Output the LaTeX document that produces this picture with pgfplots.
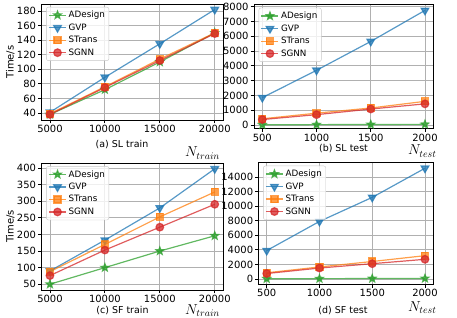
\documentclass[border=0pt]{standalone}
\usepackage{fontspec}
\setmainfont{DejaVu Sans}
\usepackage{pgfplots}
\pgfplotsset{compat=1.18}
\definecolor{tabblue}{HTML}{1F77B4}
\definecolor{taborange}{HTML}{FF7F0E}
\definecolor{tabgreen}{HTML}{2CA02C}
\definecolor{tabred}{HTML}{D62728}
\definecolor{gridgray}{HTML}{B0B0B0}

\pgfdeclareplotmark{fstar}{%
  \pgfpathmoveto{\pgfpointpolar{90}{\pgfplotmarksize}}%
  \pgfpathlineto{\pgfpointpolar{126}{0.42*\pgfplotmarksize}}%
  \pgfpathlineto{\pgfpointpolar{162}{\pgfplotmarksize}}%
  \pgfpathlineto{\pgfpointpolar{198}{0.42*\pgfplotmarksize}}%
  \pgfpathlineto{\pgfpointpolar{234}{\pgfplotmarksize}}%
  \pgfpathlineto{\pgfpointpolar{270}{0.42*\pgfplotmarksize}}%
  \pgfpathlineto{\pgfpointpolar{306}{\pgfplotmarksize}}%
  \pgfpathlineto{\pgfpointpolar{342}{0.42*\pgfplotmarksize}}%
  \pgfpathlineto{\pgfpointpolar{18}{\pgfplotmarksize}}%
  \pgfpathlineto{\pgfpointpolar{54}{0.42*\pgfplotmarksize}}%
  \pgfpathclose
  \pgfusepathqfillstroke}

\pgfplotsset{
  myaxis/.style={
    scale only axis,
    axis line style={line width=0.8bp},
    tick align=outside,
    major tick length=3.5bp,
    tick style={black, line width=0.8bp},
    xtick pos=bottom, ytick pos=left,
    grid=major,
    major grid style={gridgray, line width=0.8bp},
    ticklabel style={font=\fontsize{10}{12}\selectfont},
    xticklabel style={inner sep=1.5bp},
    yticklabel style={inner sep=2bp},
    label style={font=\fontsize{10}{12}\selectfont},
    ylabel shift=-3bp,
    /pgf/number format/assume math mode=true,
    /pgf/number format/1000 sep={},
    scaled ticks=false,
    legend cell align=left,
    legend style={at={(0.025,0.975)}, anchor=north west,
      font=\fontsize{8.8}{10}\selectfont, draw=gridgray!70,
      rounded corners=2pt, fill=white, fill opacity=0.8, text opacity=1,
      row sep=0.5pt, inner sep=2pt},
    every axis plot/.append style={line width=1.2bp, opacity=0.75},
  },
  ad/.style={tabgreen, mark=fstar, mark size=4bp, mark options={solid}},
  gvp/.style={tabblue, mark=triangle*, mark size=4.4bp, mark options={solid, rotate=180}},
  st/.style={taborange, mark=square*, mark size=3.5bp, mark options={solid}},
  sg/.style={tabred, mark=*, mark size=3.8bp, mark options={solid}},
}

\begin{document}
\begin{tikzpicture}
\useasboundingbox (0,0) rectangle (457bp,318bp);

% (a) SL train
\begin{axis}[myaxis, at={(41.7bp,198bp)}, anchor=south west,
  width=181.3bp, height=116bp,
  xmin=4250, xmax=20750, ymin=30.4, ymax=189.6,
  xtick={5000,10000,15000,20000}, ytick={40,60,...,180},
  ylabel={Time/s}]
\addplot[ad] coordinates {(5000,38) (10000,72) (15000,110) (20000,150)};
\addplot[gvp] coordinates {(5000,41) (10000,89) (15000,135) (20000,182)};
\addplot[st] coordinates {(5000,39) (10000,76) (15000,114) (20000,150)};
\addplot[sg] coordinates {(5000,38) (10000,75) (15000,112) (20000,149)};
\legend{ADesign,GVP,STrans,SGNN}
\end{axis}

% (b) SL test
\begin{axis}[myaxis, at={(254.2bp,189.3bp)}, anchor=south west,
  width=178.9bp, height=124bp,
  xmin=425, xmax=2075, ymin=-250, ymax=8136,
  xtick={500,1000,1500,2000}, ytick={0,1000,...,8000}]
\addplot[ad] coordinates {(500,15) (1000,25) (1500,35) (2000,45)};
\addplot[gvp] coordinates {(500,1850) (1000,3700) (1500,5650) (2000,7750)};
\addplot[st] coordinates {(500,420) (1000,800) (1500,1150) (2000,1600)};
\addplot[sg] coordinates {(500,370) (1000,700) (1500,1080) (2000,1430)};
\legend{ADesign,GVP,STrans,SGNN}
\end{axis}

% (c) SF train
\begin{axis}[myaxis, at={(41.7bp,28bp)}, anchor=south west,
  width=181.3bp, height=127bp,
  xmin=4250, xmax=20750, ymin=32.6, ymax=415.4,
  xtick={5000,10000,15000,20000}, ytick={50,100,...,400},
  ylabel={Time/s}]
\addplot[ad] coordinates {(5000,50) (10000,100) (15000,150) (20000,196)};
\addplot[gvp] coordinates {(5000,90) (10000,183) (15000,280) (20000,398)};
\addplot[st] coordinates {(5000,88) (10000,170) (15000,253) (20000,328)};
\addplot[sg] coordinates {(5000,76) (10000,153) (15000,222) (20000,291)};
\legend{ADesign,GVP,STrans,SGNN}
\end{axis}

% (d) SF test
\begin{axis}[myaxis, at={(258.8bp,33.7bp)}, anchor=south west,
  width=174.1bp, height=121.6bp,
  xmin=425, xmax=2075, ymin=-730, ymax=15960,
  xtick={500,1000,1500,2000}, ytick={0,2000,...,14000}]
\addplot[ad] coordinates {(500,30) (1000,45) (1500,60) (2000,75)};
\addplot[gvp] coordinates {(500,3900) (1000,7900) (1500,11200) (2000,15200)};
\addplot[st] coordinates {(500,850) (1000,1650) (1500,2400) (2000,3200)};
\addplot[sg] coordinates {(500,750) (1000,1500) (1500,2100) (2000,2700)};
\legend{ADesign,GVP,STrans,SGNN}
\end{axis}

\begin{scope}[every node/.style={inner sep=0pt}]
\node[anchor=base, font=\fontsize{9.5}{11}\selectfont] at (122bp,170bp) {(a) SL train};
\node[anchor=base west, font=\fontsize{14.5}{14}\selectfont] at (185bp,161bp) {$N_{train}$};
\node[anchor=base, font=\fontsize{9.5}{11}\selectfont] at (343.5bp,166bp) {(b) SL test};
\node[anchor=base west, font=\fontsize{14.5}{14}\selectfont] at (408bp,163bp) {$N_{test}$};
\node[anchor=base, font=\fontsize{9.5}{11}\selectfont] at (122.5bp,5bp) {(c) SF train};
\node[anchor=base west, font=\fontsize{14.5}{14}\selectfont] at (185bp,4bp) {$N_{train}$};
\node[anchor=base, font=\fontsize{9.5}{11}\selectfont] at (343bp,5bp) {(d) SF test};
\node[anchor=base west, font=\fontsize{14.5}{14}\selectfont] at (408bp,7bp) {$N_{test}$};
\end{scope}
\end{tikzpicture}
\end{document}
